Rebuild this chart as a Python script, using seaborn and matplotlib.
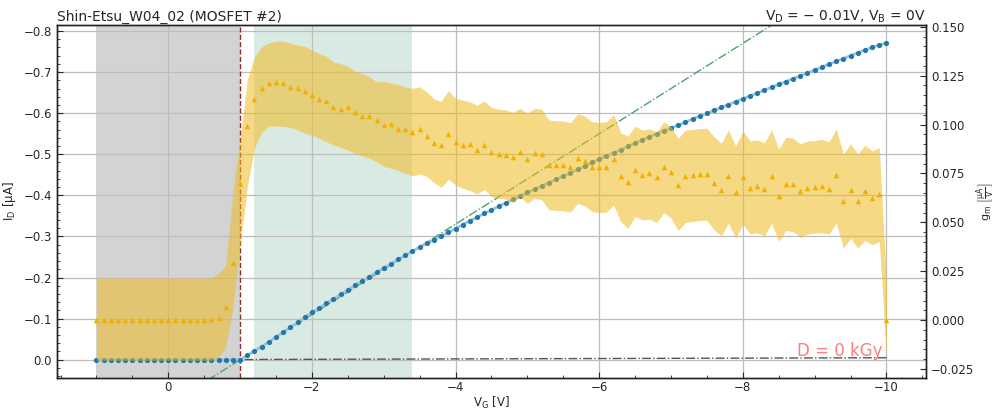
import numpy as np
import pandas as pd
import matplotlib
matplotlib.use("Agg")
import matplotlib.pyplot as plt
from matplotlib.ticker import AutoMinorLocator
import seaborn as sns

# ---------------- data ----------------
V_G = np.round(np.linspace(1.0, -10.0, 111), 1)

I_D = [0.0] * 21 + [
    -0.011, -0.021, -0.032, -0.043, -0.055, -0.067, -0.079, -0.091, -0.103, -0.115,
    -0.126, -0.137, -0.148, -0.159, -0.170, -0.181, -0.192, -0.202, -0.213, -0.223,
    -0.233, -0.244, -0.254, -0.264, -0.274, -0.283, -0.292, -0.301, -0.310, -0.319,
    -0.329, -0.338, -0.347, -0.356, -0.365, -0.373, -0.382, -0.390, -0.399, -0.407,
    -0.415, -0.423, -0.431, -0.439, -0.447, -0.455, -0.463, -0.471, -0.480, -0.488,
    -0.496, -0.503, -0.511, -0.519, -0.527, -0.535, -0.542, -0.550, -0.557, -0.564,
    -0.571, -0.578, -0.586, -0.593, -0.600, -0.607, -0.614, -0.621, -0.628, -0.635,
    -0.642, -0.649, -0.656, -0.663, -0.670, -0.677, -0.684, -0.691, -0.698, -0.705,
    -0.712, -0.719, -0.726, -0.733, -0.740, -0.747, -0.754, -0.760, -0.766, -0.771]

gm = [0.0] * 16 + [
    0.0004, 0.0009, 0.0065, 0.029, 0.070,
    0.0994, 0.1129, 0.1186, 0.1210, 0.1215, 0.1210, 0.1193, 0.1188, 0.1171, 0.1151,
    0.1132, 0.1121, 0.1088, 0.1081, 0.1091, 0.1064, 0.1043, 0.1043, 0.1025, 0.0996,
    0.1001, 0.0979, 0.0977, 0.0962, 0.0976, 0.0943, 0.0906, 0.0895, 0.0953, 0.0912,
    0.0897, 0.0898, 0.0870, 0.0897, 0.0861, 0.0851, 0.0846, 0.0834, 0.0858, 0.0824,
    0.0855, 0.0851, 0.0795, 0.0792, 0.0792, 0.0781, 0.0829, 0.0815, 0.0785, 0.0783,
    0.0783, 0.0822, 0.0737, 0.0707, 0.0768, 0.0742, 0.0753, 0.0732, 0.0785, 0.0758,
    0.0693, 0.0739, 0.0741, 0.0746, 0.0746, 0.0700, 0.0667, 0.0737, 0.0656, 0.0734,
    0.0676, 0.0686, 0.0669, 0.0737, 0.0637, 0.0696, 0.0696, 0.0661, 0.0678, 0.0681,
    0.0688, 0.0672, 0.0741, 0.0610, 0.0666, 0.0610, 0.0659, 0.0625, 0.0644, 0.0]

gm_upper = [0.0215] * 16 + [
    0.0215, 0.024, 0.028, 0.066, 0.092,
    0.123, 0.1346, 0.1397, 0.1417, 0.1426, 0.1426, 0.1417, 0.1406, 0.1401, 0.1380,
    0.1363, 0.1349, 0.1319, 0.1312, 0.1298, 0.1273, 0.1261, 0.1244, 0.1218, 0.1222,
    0.1213, 0.1205, 0.1193, 0.1185, 0.1193, 0.1167, 0.1130, 0.1120, 0.1172, 0.1134,
    0.1125, 0.1116, 0.1099, 0.1121, 0.1088, 0.1078, 0.1074, 0.1062, 0.1083, 0.1057,
    0.1083, 0.1078, 0.1023, 0.1019, 0.1018, 0.1009, 0.1055, 0.1043, 0.1014, 0.1011,
    0.1014, 0.1052, 0.0958, 0.0941, 0.0992, 0.0972, 0.0977, 0.0963, 0.1014, 0.0989,
    0.0930, 0.0972, 0.0975, 0.0980, 0.0981, 0.0938, 0.0904, 0.0972, 0.0890, 0.0967,
    0.0916, 0.0921, 0.0907, 0.0972, 0.0875, 0.0935, 0.0930, 0.0901, 0.0916, 0.0918,
    0.0925, 0.0911, 0.0977, 0.0849, 0.0901, 0.0849, 0.0895, 0.0865, 0.0882, 0.0187]

gm_lower = [-0.0205] * 16 + [
    -0.0205, -0.019, -0.014, 0.006, 0.038,
    0.068, 0.088, 0.096, 0.0992, 0.0992, 0.0990, 0.0986, 0.0972, 0.0955, 0.0946,
    0.0930, 0.0912, 0.0895, 0.0884, 0.0870, 0.0853, 0.0839, 0.0828, 0.0810, 0.0785,
    0.0777, 0.0764, 0.0751, 0.0737, 0.0747, 0.0734, 0.0703, 0.0679, 0.0720, 0.0691,
    0.0674, 0.0662, 0.0645, 0.0669, 0.0632, 0.0623, 0.0618, 0.0603, 0.0628, 0.0597,
    0.0623, 0.0615, 0.0564, 0.0561, 0.0559, 0.0552, 0.0597, 0.0584, 0.0555, 0.0550,
    0.0552, 0.0589, 0.0504, 0.0470, 0.0530, 0.0513, 0.0516, 0.0499, 0.0550, 0.0521,
    0.0458, 0.0499, 0.0504, 0.0510, 0.0510, 0.0462, 0.0431, 0.0496, 0.0419, 0.0492,
    0.0441, 0.0446, 0.0431, 0.0496, 0.0402, 0.0458, 0.0453, 0.0424, 0.0440, 0.0445,
    0.0446, 0.0440, 0.0496, 0.0368, 0.0419, 0.0368, 0.0407, 0.0385, 0.0402, -0.0187]

V_th = -1.0                 # threshold voltage (dashed vertical line)
fit_slope = 0.110           # linear-region fit slope [uA/V]
off_span = (1.0, -1.0)      # off region (grey)
fit_span = (-1.2, -3.4)     # fit region (green)
off_fit_V = [-1.0, -10.0]
off_fit_I = [-0.0005, -0.0048]

title_left = "Shin-Etsu_W04_02 (MOSFET #2)"
title_right = "$V_D$ = \u2212 0.01V, $V_B$ = 0V"
dose_label = "D = 0 kGy"

df = pd.DataFrame({"V_G": V_G, "I_D": I_D, "gm": gm,
                   "gm_upper": gm_upper, "gm_lower": gm_lower})

# ---------------- style ----------------
sns.set_style("ticks")
plt.rcParams["font.family"] = ["DejaVu Sans"]
plt.rcParams["mathtext.default"] = "regular"
plt.rcParams["xtick.direction"] = "in"
plt.rcParams["ytick.direction"] = "in"

fig = plt.figure(figsize=(9.96, 4.11), dpi=100)
ax = fig.add_axes([0.0572, 0.0803, 0.8725, 0.8589])

ax.axvspan(*off_span, color="#d3d3d3", lw=0, zorder=0.5)
ax.axvspan(*fit_span, color="#d9eae3", lw=0, zorder=0.5)
ax.grid(True, color="#bdbdbd", lw=0.9)

fit_I = fit_slope * (df["V_G"] - V_th)
sns.lineplot(x=df["V_G"], y=fit_I, ax=ax, color="#4aa36a", lw=1.0,
             linestyle="-.", zorder=2)
sns.lineplot(x=off_fit_V, y=off_fit_I, ax=ax, color="#555555", lw=1.0,
             linestyle="-.", zorder=2)
ax.axvline(V_th, color="#8b2e2e", lw=1.0, linestyle="--", zorder=2)
sns.lineplot(data=df, x="V_G", y="I_D", ax=ax, color="#9cc3de", lw=2.0, zorder=3)
sns.scatterplot(data=df, x="V_G", y="I_D", ax=ax, color="#2277aa", s=14,
                linewidth=0, zorder=4)

ax.set_xlim(1.55, -10.55)
ax.set_ylim(0.0445, -0.8146)
ax.set_xlabel(r"$V_G$ [V]", fontsize=8.5, labelpad=1)
ax.set_ylabel(r"$I_D$ [μA]", fontsize=8.5, labelpad=4)
ax.xaxis.set_minor_locator(AutoMinorLocator())
ax.yaxis.set_minor_locator(AutoMinorLocator())
ax.tick_params(which="both", labelsize=8.5, direction="in")
ax.tick_params(axis="x", which="both", pad=2)
ax.tick_params(which="major", length=4)
ax.tick_params(which="minor", length=2)

ax2 = ax.twinx()
ax2.fill_between(df["V_G"], df["gm_lower"], df["gm_upper"], color="#efbb22",
                 alpha=0.55, lw=0)
sns.scatterplot(data=df, x="V_G", y="gm", ax=ax2, color="#f0b000", marker="^",
                s=16, linewidth=0, zorder=4)
ax2.set_ylim(-0.0296, 0.1509)
ax2.set_ylabel(r"$g_m$ $\left[\frac{\mu A}{V}\right]$", fontsize=8, labelpad=0)
ax2.yaxis.set_minor_locator(AutoMinorLocator())
ax2.tick_params(which="both", labelsize=8.5, direction="in")
ax2.tick_params(which="major", length=4)
ax2.tick_params(which="minor", length=2)
ax2.set_xlim(1.55, -10.55)

ax2.text(0.95, 0.05, dose_label, transform=ax2.transAxes, ha="right", va="bottom",
         color="#ff7f7f", fontsize=12, zorder=10)

ax.set_title(title_left, loc="left", fontsize=10, pad=3)
ax.set_title(title_right, loc="right", fontsize=10, pad=3)

for a in (ax, ax2):
    for s in a.spines.values():
        s.set_color("#222222")
        s.set_linewidth(1.0)

fig.savefig("out.png", dpi=100)
